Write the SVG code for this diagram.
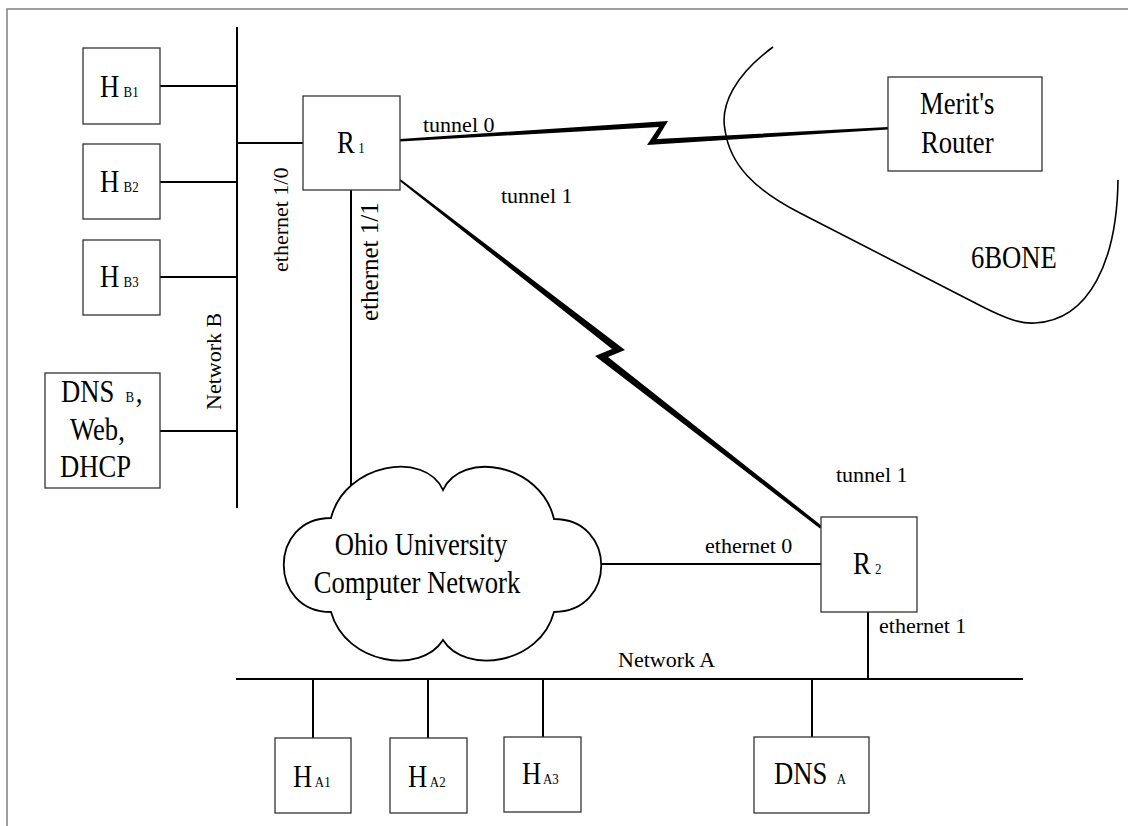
<svg xmlns="http://www.w3.org/2000/svg" width="1128" height="826" viewBox="0 0 1128 826">
<style>
.box{fill:#fff;stroke:#333;stroke-width:1.3}
.ln{stroke:#000;stroke-width:2;fill:none}
.big{font-family:"Liberation Serif","Times New Roman",serif;font-size:31px;fill:#000}
.lbl{font-family:"Liberation Serif","Times New Roman",serif;font-size:22px;fill:#000}
.sub{font-size:15px}
</style>
<rect x="0" y="0" width="1128" height="826" fill="#fff"/>
<rect x="7" y="9" width="1140" height="840" fill="none" stroke="#808080" stroke-width="1.5"/>
<g id="connectors">
<line class="ln" x1="237" y1="27" x2="237" y2="508"/>
<line class="ln" x1="160" y1="86" x2="237" y2="86"/>
<line class="ln" x1="160" y1="182" x2="237" y2="182"/>
<line class="ln" x1="160" y1="277" x2="237" y2="277"/>
<line class="ln" x1="160" y1="431" x2="237" y2="431"/>
<line class="ln" x1="237" y1="143" x2="303" y2="143"/>
<line class="ln" x1="351" y1="190" x2="351" y2="487"/>
<line class="ln" x1="601" y1="564" x2="821" y2="564"/>
<line class="ln" x1="868" y1="612" x2="868" y2="679"/>
<line class="ln" x1="236" y1="679" x2="1023" y2="679"/>
<line class="ln" x1="313" y1="679" x2="313" y2="738"/>
<line class="ln" x1="428" y1="679" x2="428" y2="738"/>
<line class="ln" x1="543" y1="679" x2="543" y2="737"/>
<line class="ln" x1="812" y1="679" x2="812" y2="737"/>
<polygon fill="#000" points="400,139 668,121 657,139 888,127 888,129.5 647,145 659,127 400,141.5"/>
<polygon fill="#000" points="400.6,179.2 625,350 608,357 822,526 820,528.5 595,356 612,349 399.4,180.8"/>
</g>
<g id="sixbone">
<path d="M773,47 C735,75 720,105 725,130 C730,165 755,190 800,213 L983,307 C1005,318 1020,324 1035,323 C1090,320 1117,260 1118,180" fill="none" stroke="#000" stroke-width="1.6"/>
<text class="big" transform="translate(971,268) scale(0.86,1)">6BONE</text>
</g>
<g id="HB1"><rect class="box" x="83" y="48" width="77" height="76"/><text class="big" transform="translate(100,97) scale(0.86,1)">H<tspan class="sub" dx="5">B1</tspan></text></g>
<g id="HB2"><rect class="box" x="83" y="144" width="77" height="75"/><text class="big" transform="translate(100,192) scale(0.86,1)">H<tspan class="sub" dx="5">B2</tspan></text></g>
<g id="HB3"><rect class="box" x="83" y="240" width="77" height="75"/><text class="big" transform="translate(100,287) scale(0.86,1)">H<tspan class="sub" dx="5">B3</tspan></text></g>
<g id="DNSB"><rect class="box" x="45" y="373" width="115" height="115"/>
<text class="big" transform="translate(61,402) scale(0.86,1)">DNS<tspan class="sub" dx="13">B</tspan><tspan dx="2">,</tspan></text>
<text class="big" transform="translate(70,440) scale(0.86,1)">Web,</text>
<text class="big" transform="translate(60,477) scale(0.86,1)">DHCP</text></g>
<g id="R1"><rect class="box" x="303" y="96" width="97" height="94"/><text class="big" transform="translate(337,153) scale(0.86,1)">R<tspan class="sub" dx="4">1</tspan></text></g>
<g id="Merit"><rect class="box" x="888" y="77" width="154" height="94"/><text class="big" transform="translate(920,114) scale(0.86,1)">Merit's</text><text class="big" transform="translate(921,153) scale(0.86,1)">Router</text></g>
<g id="R2"><rect class="box" x="821" y="517" width="96" height="95"/><text class="big" transform="translate(853,574) scale(0.86,1)">R<tspan class="sub" dx="5">2</tspan></text></g>
<g id="cloud">
<path d="M331,518 C345,463 425,450 443,490 C461,450 541,463 554,519 C617,519 617,612 554,612 C540,665 465,675 443,640 C421,675 346,665 331,612 C268,612 268,518 331,518 Z" fill="#fff" stroke="#000" stroke-width="1.8"/>
<text class="big" transform="translate(421,555) scale(0.86,1)" text-anchor="middle">Ohio University</text>
<text class="big" transform="translate(417,593) scale(0.86,1)" text-anchor="middle">Computer Network</text>
</g>
<g id="HA1"><rect class="box" x="275" y="738" width="76" height="75"/><text class="big" transform="translate(293,787) scale(0.86,1)">H<tspan class="sub" dx="3">A1</tspan></text></g>
<g id="HA2"><rect class="box" x="390" y="738" width="77" height="75"/><text class="big" transform="translate(408,787) scale(0.86,1)">H<tspan class="sub" dx="3">A2</tspan></text></g>
<g id="HA3"><rect class="box" x="504" y="737" width="77" height="75"/><text class="big" transform="translate(522,784) scale(0.86,1)">H<tspan class="sub" dx="2">A3</tspan></text></g>
<g id="DNSA"><rect class="box" x="754" y="737" width="115" height="76"/><text class="big" transform="translate(774,784) scale(0.86,1)">DNS<tspan class="sub" dx="11">A</tspan></text></g>
<g id="labels">
<text class="lbl" x="423" y="132">tunnel 0</text>
<text class="lbl" x="501" y="203">tunnel 1</text>
<text class="lbl" x="836" y="482">tunnel 1</text>
<text class="lbl" x="705" y="553">ethernet 0</text>
<text class="lbl" x="879" y="633">ethernet 1</text>
<text class="lbl" x="618" y="667">Network A</text>
<text class="lbl" transform="translate(288,272) rotate(-90)">ethernet 1/0</text>
<text class="lbl" transform="translate(378,321) rotate(-90)" style="font-size:25px">ethernet 1/1</text>
<text class="lbl" transform="translate(221,410) rotate(-90)">Network B</text>
</g>
</svg>
